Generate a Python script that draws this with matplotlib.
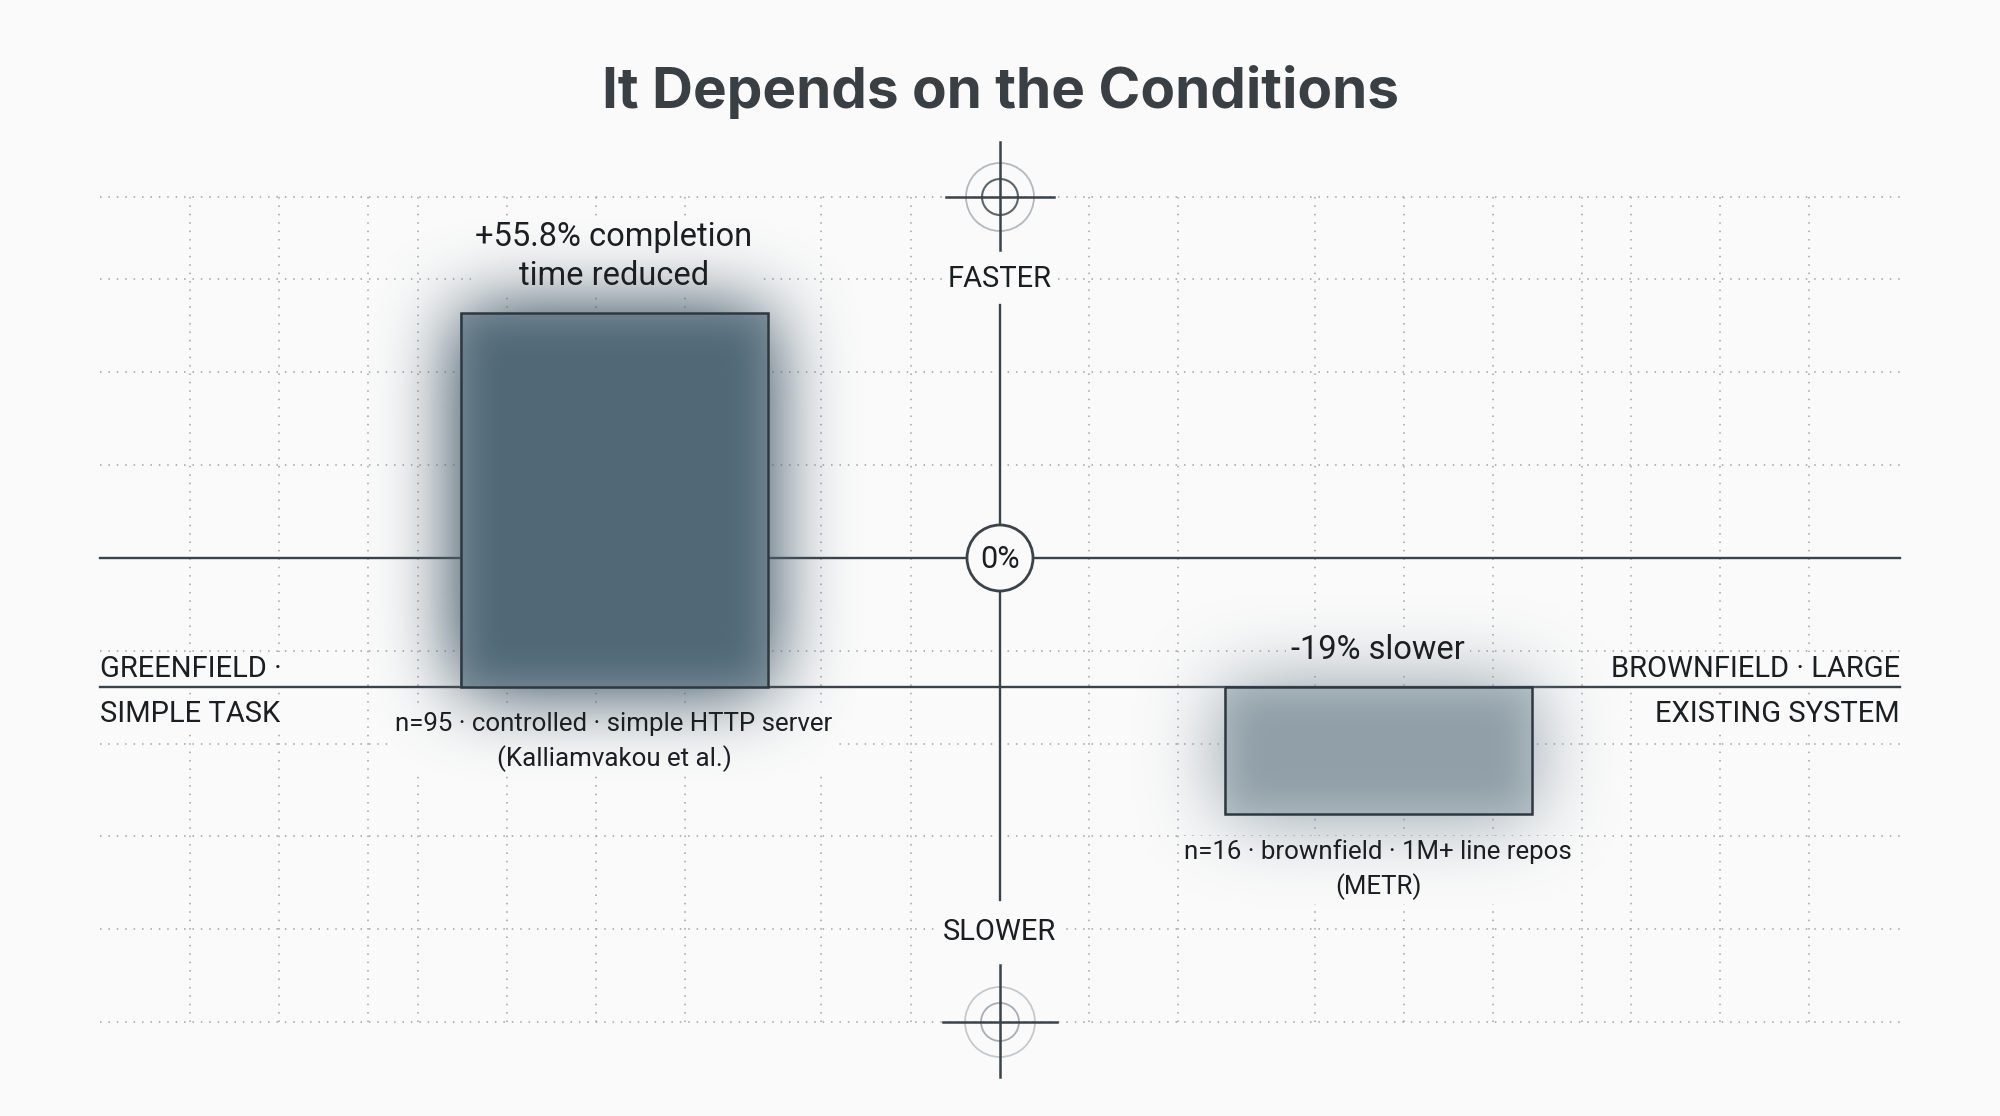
import numpy as np
import matplotlib
matplotlib.use("Agg")
import matplotlib.pyplot as plt
from matplotlib.patches import Circle

# data
categories = ["Greenfield", "Brownfield"]
speedup = [55.8, -19.0]
value_labels = ["+55.8% completion\ntime reduced", "-19% slower"]
note_labels = ["n=95 · controlled · simple HTTP server\n(Kalliamvakou et al.)",
               "n=16 · brownfield · 1M+ line repos\n(METR)"]
left_label = "GREENFIELD ·\nSIMPLE TASK"
right_label = "BROWNFIELD · LARGE\nEXISTING SYSTEM"
title = "It Depends on the Conditions"

# style
W, H = 2000, 1116
BG = "#fafafa"
INK = "#1c1f22"
LINE = "#3b4248"
GRID = "#9ea3a7"
face_colors = ["#516877", "#909fa8"]
glow_colors = ["#4d6270", "#8596a0"]
shine_colors = ["#7a8d98", "#b2bec4"]
edge_color = "#2e3840"

plt.rcParams["font.family"] = ["Roboto", "DejaVu Sans"]

fig = plt.figure(figsize=(W / 100, H / 100), dpi=100, facecolor=BG)

# decoration layer in pixel coords (y down)
deco = fig.add_axes([0, 0, 1, 1], zorder=0)
deco.set_facecolor(BG)
deco.axis("off")

# data layer
ax = fig.add_axes([0, 0, 1, 1], zorder=1)
ax.patch.set_alpha(0)
ax.axis("off")
px_per_unit = 6.7
base_px = 687
x_step = 764
x0_px = 614
xlim = (-x0_px / x_step, (W - x0_px) / x_step)
ylim = (-(H - base_px) / px_per_unit, base_px / px_per_unit)
ax.set_xlim(*xlim)
ax.set_ylim(*ylim)
xpos = np.arange(len(categories))
bar_w = 307 / x_step


def box_blur(a, r, axis):
    pad = [(0, 0), (0, 0)]
    pad[axis] = (r + 1, r)
    c = np.cumsum(np.pad(a, pad), axis=axis)
    n = 2 * r + 1
    if axis == 0:
        return (c[n:] - c[:-n]) / n
    return (c[:, n:] - c[:, :-n]) / n


def blur(a, r, passes=3):
    for _ in range(passes):
        a = box_blur(box_blur(a, r, 0), r, 1)
    return a


def rgba(color, alpha):
    img = np.zeros((H, W, 4))
    img[..., :3] = matplotlib.colors.to_rgb(color)
    img[..., 3] = np.clip(alpha, 0, 1)
    return img


# bars
ax.bar(xpos, speedup, width=bar_w, color=face_colors, edgecolor="none", zorder=2)
ax.bar(xpos, speedup, width=bar_w, fill=False, edgecolor=edge_color, linewidth=1.8, zorder=4)

mask_box = dict(boxstyle="square,pad=0.15", fc=BG, ec="none")
for i, v in enumerate(speedup):
    (dx0, dy0), (dx1, dy1) = ax.transData.transform([[xpos[i] - bar_w / 2, 0], [xpos[i] + bar_w / 2, v]])
    c0, c1 = int(round(min(dx0, dx1))), int(round(max(dx0, dx1)))
    r0, r1 = int(round(H - max(dy0, dy1))), int(round(H - min(dy0, dy1)))
    mask = np.zeros((H, W))
    mask[r0:r1, c0:c1] = 1.0
    glow = blur(mask, 38)
    ax.imshow(rgba(glow_colors[i], glow * (1.3 if i == 0 else 0.95)),
              extent=(*xlim, *ylim), origin="upper", aspect="auto", zorder=1)
    inner = blur(mask, 20)
    shine = (1 - inner) * 1.4 * mask
    ax.imshow(rgba(shine_colors[i], shine), extent=(*xlim, *ylim),
              origin="upper", aspect="auto", zorder=3)

    top = max(v, 0)
    bot = min(v, 0)
    value_kw = dict(xytext=(0, 15), textcoords="offset points", ha="center", va="bottom",
                    fontsize=23.5, linespacing=1.3)
    note_kw = dict(xytext=(0, -18), textcoords="offset points", ha="center", va="top",
                   fontsize=18.6, linespacing=1.45)
    ax.annotate(value_labels[i], (xpos[i], top), color=INK, zorder=5, **value_kw)
    ax.annotate(note_labels[i], (xpos[i], bot), color=INK, zorder=5, **note_kw)
    # masks that hide the grid behind the labels
    deco.annotate(value_labels[i], (xpos[i], top), xycoords=ax.transData, color=BG,
                  zorder=2, bbox=mask_box, **value_kw)
    deco.annotate(note_labels[i], (xpos[i], bot), xycoords=ax.transData, color=BG,
                  zorder=2, bbox=mask_box, **note_kw)

ax.set_xlim(*xlim)
ax.set_ylim(*ylim)

# grid
grid_y = [197, 279, 372, 465, 558, 651, 744, 836, 929, 1022]
grid_x = [190, 279, 368, 418, 507, 596, 685, 821, 911, 1089, 1178, 1315,
          1404, 1493, 1582, 1631, 1720, 1809]
for gy in grid_y:
    deco.plot([100, 1900], [gy, gy], color=GRID, lw=1.1, ls=(0, (1, 4.5)), zorder=1)
for gx in grid_x:
    deco.plot([gx, gx], [197, 1022], color=GRID, lw=1.1, ls=(0, (1, 4.5)), zorder=1)

# axis lines
zero_y = 558
deco.plot([100, 1900], [zero_y, zero_y], color=LINE, lw=1.7, zorder=3)
deco.plot([100, 1900], [base_px, base_px], color=LINE, lw=1.7, zorder=3)
deco.plot([1000, 1000], [305, 900], color=LINE, lw=1.7, zorder=3)

deco.add_patch(Circle((1000, zero_y), 33, fc=BG, ec=LINE, lw=2, zorder=4))
deco.text(1000, zero_y + 1, "0%", ha="center", va="center", fontsize=22, color=INK, zorder=5)

# crosshairs
deco.add_patch(Circle((1000, 197), 34, fill=False, ec="#b5b9bd", lw=1.3, zorder=4))
deco.add_patch(Circle((1000, 197), 18, fill=False, ec="#5d646a", lw=1.5, zorder=4))
deco.plot([946, 1054], [197, 197], color=LINE, lw=1.8, zorder=5)
deco.plot([1000, 1000], [142, 250], color=LINE, lw=1.8, zorder=5)

deco.add_patch(Circle((1000, 1022), 35, fill=False, ec="#c6c9cc", lw=1.3, zorder=4))
deco.add_patch(Circle((1000, 1022), 19, fill=False, ec="#a8adb1", lw=1.3, zorder=4))
deco.plot([943, 1057], [1022, 1022], color=LINE, lw=1.8, zorder=5)
deco.plot([1000, 1000], [965, 1077], color=LINE, lw=1.8, zorder=5)

txt_box = dict(boxstyle="square,pad=0.2", fc=BG, ec="none")
deco.text(1000, 279, "FASTER", ha="center", va="center", fontsize=21, color=INK,
          zorder=6, bbox=txt_box)
deco.text(1000, 932, "SLOWER", ha="center", va="center", fontsize=21, color=INK,
          zorder=6, bbox=txt_box)

side_box = dict(boxstyle="square,pad=0.1", fc=BG, ec="none")
l1, l2 = left_label.split("\n")
deco.text(100, 669, l1, ha="left", va="center", fontsize=21, color=INK, zorder=2, bbox=side_box)
deco.text(100, 714, l2, ha="left", va="center", fontsize=21, color=INK, zorder=2, bbox=side_box)
r1_, r2_ = right_label.split("\n")
deco.text(1900, 669, r1_, ha="right", va="center", fontsize=21, color=INK, zorder=2, bbox=side_box)
deco.text(1900, 714, r2_, ha="right", va="center", fontsize=21, color=INK, zorder=2, bbox=side_box)

deco.text(1000, 92, title, ha="center", va="center", fontsize=40.8, fontweight="bold",
          family=["Inter", "DejaVu Sans"], color="#3a3f44", zorder=6)

deco.set_xlim(0, W)
deco.set_ylim(H, 0)

fig.savefig("out.png", dpi=100, facecolor=BG)
